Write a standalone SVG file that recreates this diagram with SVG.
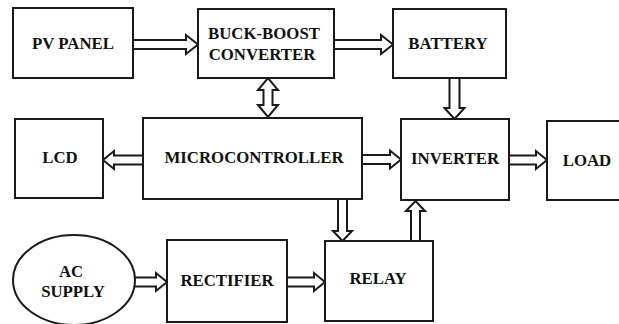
<svg xmlns="http://www.w3.org/2000/svg" width="619" height="324" viewBox="0 0 619 324">
<style>
.box{fill:#fff;stroke:#1a1a1a;stroke-width:2}
.arr{fill:#fff;stroke:#1a1a1a;stroke-width:2;stroke-linejoin:miter}
.t{font-family:'Liberation Serif','DejaVu Serif',serif;font-weight:bold;font-size:16.8px;fill:#111;text-anchor:middle}
</style>
<rect width="619" height="324" fill="#fff"/>
<g id="connectors">
<path class="arr" d="M133 40 H186 V35 L198 44.5 L186 54 V49 H133"/>
<path class="arr" d="M334 40 H381 V35 L393 44.5 L381 54 V49 H334"/>
<path class="arr" d="M263.5 90 H258 L268 78 L278 90 H272.5 V105 H278 L268 117 L258 105 H263.5 Z"/>
<path class="arr" d="M449.5 78 V108 H444.5 L454.5 119 L464.5 108 H459.5 V78"/>
<path class="arr" d="M143 155.5 H114 V151 L103 160 L114 169 V164.5 H143"/>
<path class="arr" d="M362 155 H390 V150.5 L401 159.5 L390 168.5 V164 H362"/>
<path class="arr" d="M509 155.5 H536 V151 L547 160 L536 169 V164.5 H509"/>
<path class="arr" d="M338 199 V231 H333 L342.5 241 L352 231 H347 V199"/>
<path class="arr" d="M411 241 V211 H406 L415.5 201 L425 211 H420 V241"/>
<path class="arr" d="M135 277.5 H156 V273 L167 282 L156 291 V286.5 H135"/>
<path class="arr" d="M287 277.5 H314 V273 L325 282 L314 291 V286.5 H287"/>
</g>
<g id="pv-panel">
<rect class="box" x="13" y="8" width="120" height="70"/>
<text class="t" x="73" y="49">PV PANEL</text>
</g>
<g id="buck-boost">
<rect class="box" x="198" y="9" width="136" height="69"/>
<text class="t" x="264" y="39">BUCK-BOOST</text>
<text class="t" x="262" y="60">CONVERTER</text>
</g>
<g id="battery">
<rect class="box" x="393" y="9" width="113" height="69"/>
<text class="t" x="448" y="49">BATTERY</text>
</g>
<g id="lcd">
<rect class="box" x="15" y="119" width="88" height="79"/>
<text class="t" x="60" y="163">LCD</text>
</g>
<g id="microcontroller">
<rect class="box" x="143" y="118" width="219" height="81"/>
<text class="t" x="254" y="163">MICROCONTROLLER</text>
</g>
<g id="inverter">
<rect class="box" x="401" y="119" width="108" height="81"/>
<text class="t" x="455" y="164">INVERTER</text>
</g>
<g id="load">
<rect class="box" x="547" y="121" width="80" height="79"/>
<text class="t" x="587" y="166">LOAD</text>
</g>
<g id="ac-supply">
<ellipse class="box" cx="74" cy="280" rx="61" ry="45"/>
<text class="t" x="71" y="277">AC</text>
<text class="t" x="73" y="297">SUPPLY</text>
</g>
<g id="rectifier">
<rect class="box" x="167" y="240" width="120" height="82"/>
<text class="t" x="227" y="286">RECTIFIER</text>
</g>
<g id="relay">
<rect class="box" x="325" y="241" width="108" height="80"/>
<text class="t" x="378" y="284">RELAY</text>
</g>
</svg>
